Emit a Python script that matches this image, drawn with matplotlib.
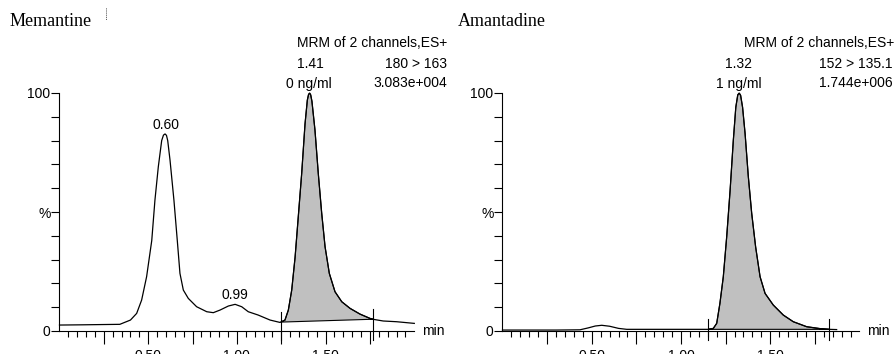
import numpy as np
import matplotlib.pyplot as plt
from matplotlib.ticker import FixedLocator, FuncFormatter
from matplotlib.lines import Line2D

plt.rcParams['font.family'] = ['Liberation Sans', 'DejaVu Sans']

# Memantine, MRM 180 > 163 (time in min, signal in %)
mem_time = [0.00, 0.13, 0.23, 0.34, 0.40, 0.435, 0.463, 0.491, 0.52, 0.538, 0.557,
            0.576, 0.586, 0.595, 0.603, 0.61, 0.623, 0.645, 0.664, 0.679, 0.698,
            0.726, 0.773, 0.83, 0.867, 0.905, 0.952, 0.99, 1.027, 1.064, 1.12,
            1.187, 1.243, 1.271, 1.29, 1.309, 1.328, 1.346, 1.365, 1.384, 1.397,
            1.404, 1.41, 1.416, 1.423, 1.44, 1.459, 1.478, 1.497, 1.521, 1.553,
            1.591, 1.638, 1.694, 1.75, 1.769, 1.825, 1.9, 2.0]
mem_signal = [2.5, 2.6, 2.7, 2.8, 4.6, 7.4, 13.0, 22.8, 38.0, 55.0, 69.0,
              80.0, 82.3, 82.8, 82.2, 80.0, 71.8, 55.0, 38.0, 24.2, 17.2,
              13.7, 10.2, 8.1, 7.7, 8.8, 10.5, 11.2, 10.2, 8.1, 6.7,
              4.6, 3.6, 4.6, 8.8, 17.2, 31.0, 48.0, 66.0, 87.0, 97.0,
              99.4, 100.0, 99.2, 96.5, 84.5, 66.0, 49.5, 35.4, 24.2, 16.5,
              12.3, 9.5, 7.1, 5.3, 4.9, 4.2, 3.9, 3.2]
mem_limits = [1.247, 1.767]
mem_peaks = [0.60, 0.99]
mem_peak_labels = ['0.60', '0.99']

# Amantadine, MRM 152 > 135.1
ama_time = [0.00, 0.30, 0.434, 0.48, 0.52, 0.556, 0.60, 0.65, 0.696, 0.90, 1.153,
            1.181, 1.20, 1.218, 1.237, 1.256, 1.275, 1.293, 1.307, 1.318, 1.326,
            1.334, 1.345, 1.359, 1.377, 1.396, 1.418, 1.443, 1.471, 1.517, 1.573,
            1.629, 1.704, 1.779, 1.831, 1.872]
ama_signal = [0.4, 0.4, 0.5, 1.3, 2.1, 2.4, 2.0, 1.1, 0.7, 0.7, 0.7,
              1.1, 3.2, 11.6, 22.8, 39.6, 59.0, 80.0, 94.0, 99.2, 100.0,
              99.0, 94.0, 83.0, 65.0, 49.5, 35.4, 22.8, 15.8, 10.9, 6.7,
              3.9, 1.8, 1.0, 0.7, 0.6]
ama_limits = [1.153, 1.831]


def draw_panel(fig, rect, time, signal, limits, peaks, peak_labels):
    ax = fig.add_axes(rect)
    ax.plot(time, signal, color='black', lw=0.9, clip_on=False, zorder=3)

    # integrated area between the trace and the straight baseline
    t = np.asarray(time)
    s = np.asarray(signal)
    y0 = np.interp(limits[0], t, s)
    y1 = np.interp(limits[1], t, s)
    inside = (t > limits[0]) & (t < limits[1])
    px = [limits[0]] + list(t[inside]) + [limits[1]]
    py = [y0] + list(s[inside]) + [y1]
    ax.fill(px, py, facecolor='#c0c0c0', edgecolor='black', lw=0.8, zorder=2)
    for lim, yv in zip(limits, [y0, y1]):
        ax.plot([lim, lim], [-3.8, yv + 4.2], color='black', lw=0.8, clip_on=False)

    for pk, lab in zip(peaks, peak_labels):
        yv = np.interp(pk, t, s)
        ax.text(pk, yv + 1.0, lab, ha='center', va='bottom', fontsize=10)

    ax.set_xlim(0, 2.0)
    ax.set_ylim(0, 100)
    for side in ['top', 'right']:
        ax.spines[side].set_visible(False)
    for side in ['left', 'bottom']:
        ax.spines[side].set_linewidth(0.8)

    ax.xaxis.set_major_locator(FixedLocator(np.arange(0.25, 1.8, 0.25)))
    ax.xaxis.set_minor_locator(FixedLocator(np.arange(0.05, 1.96, 0.05)))
    ax.xaxis.set_major_formatter(FuncFormatter(
        lambda v, p: f'{v:.2f}' if abs(v * 2 - round(v * 2)) < 1e-6 else ''))
    ax.tick_params(axis='x', which='major', length=9, width=0.8, pad=4, labelsize=10)
    ax.tick_params(axis='x', which='minor', length=4, width=0.8)

    ax.yaxis.set_major_locator(FixedLocator([0, 50, 100]))
    ax.yaxis.set_minor_locator(FixedLocator(np.arange(10, 100, 10)))
    ax.set_yticklabels(['0', '%', '100'])
    ax.tick_params(axis='y', which='both', length=6, width=0.8, pad=0.5, labelsize=10)

    ax.text(2.045, 0, 'min', ha='left', va='center', fontsize=10, clip_on=False)
    return ax


fig = plt.figure(figsize=(8.95, 3.54), dpi=100)
W, H = 895.0, 354.0

draw_panel(fig, [59.5 / W, 23 / H, 354.8 / W, 238 / H],
           mem_time, mem_signal, mem_limits, mem_peaks, mem_peak_labels)
draw_panel(fig, [502.5 / W, 23 / H, 357 / W, 238 / H],
           ama_time, ama_signal, ama_limits, [], [])


def ftext(x, y, s, **kw):
    fig.text(x / W, 1 - y / H, s, va='baseline', **kw)


ftext(10, 26.5, 'Memantine', family='Liberation Serif', fontsize=13)
ftext(458, 26.5, 'Amantadine', family='Liberation Serif', fontsize=13)
fig.add_artist(Line2D([106 / W, 106 / W], [1 - 8 / H, 1 - 20 / H],
                      color='black', lw=0.6, ls=(0, (1, 1.5))))

ftext(447, 47.3, 'MRM of 2 channels,ES+', ha='right', fontsize=10)
ftext(310, 68.3, '1.41', ha='center', fontsize=10)
ftext(447, 68.3, '180 > 163', ha='right', fontsize=10)
ftext(309, 88, '0 ng/ml', ha='center', fontsize=10)
ftext(447, 86.7, '3.083e+004', ha='right', fontsize=10)

ftext(894, 47.3, 'MRM of 2 channels,ES+', ha='right', fontsize=10)
ftext(739, 68.3, '1.32', ha='center', fontsize=10)
ftext(893, 68.3, '152 > 135.1', ha='right', fontsize=10)
ftext(739, 88, '1 ng/ml', ha='center', fontsize=10)
ftext(893, 86.7, '1.744e+006', ha='right', fontsize=10)

fig.savefig('out.png', dpi=100)
